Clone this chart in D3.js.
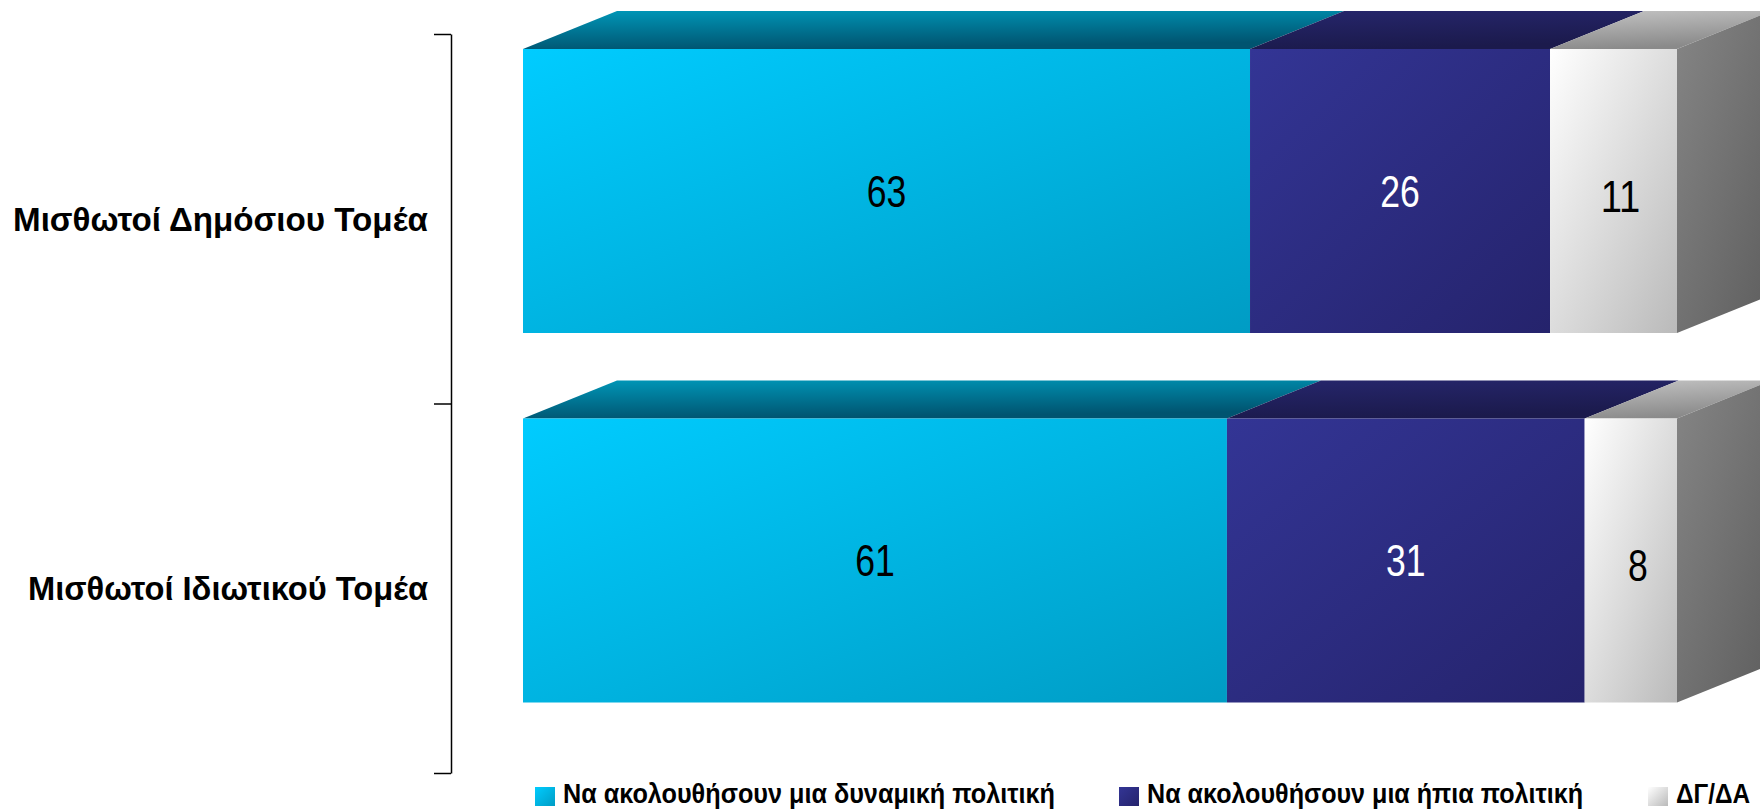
<!DOCTYPE html>
<html>
<head>
<meta charset="utf-8">
<script src="https://cdn.jsdelivr.net/npm/d3@7"></script>
<style>
body { margin: 0; background: #fff; }
</style>
</head>
<body>
<div id="myDiv"></div>
<script>
// chart data
var categories = ["Μισθωτοί Δημόσιου Τομέα", "Μισθωτοί Ιδιωτικού Τομέα"];
var seriesNames = ["Να ακολουθήσουν μια δυναμική πολιτική", "Να ακολουθήσουν μια ήπια πολιτική", "ΔΓ/ΔΑ"];
var dynamicPolicy = [63, 61];
var mildPolicy = [26, 31];
var dontKnow = [11, 8];

var width = 1760, height = 810;
var depthX = 94, depthY = 38;
var barTop = 15, barH = 284;

var svg = d3.select("#myDiv").append("svg")
    .attr("width", width)
    .attr("height", height);

var x = d3.scaleLinear().domain([0, 100]).range([523, 1677]);
var y = d3.scaleBand().domain(categories).range([34, 773]).padding(0);
var edges = d3.scaleLinear().domain([0, categories.length]).range([34, 773]);

// gradients
var defs = svg.append("defs");
function grad(id, c1, c2, x2, y2){
    var g = defs.append("linearGradient").attr("id", id)
        .attr("x1", 0).attr("y1", 0).attr("x2", x2).attr("y2", y2);
    g.append("stop").attr("offset", "0%").attr("stop-color", c1);
    g.append("stop").attr("offset", "100%").attr("stop-color", c2);
}
var styles = [
    {front: ["#00ccff", "#009cc4"], top: ["#0097b8", "#005470"], text: "#000"},
    {front: ["#333595", "#25236c"], top: ["#26266c", "#1b1a4c"], text: "#fff"},
    {front: ["#ffffff", "#bababa"], top: ["#c4c4c4", "#8a8a8a"], text: "#000"}
];
styles.forEach(function(s, i){
    grad("front" + i, s.front[0], s.front[1], 1, 1);
    grad("top" + i, s.top[0], s.top[1], 0.3, 1);
});
grad("side", "#858585", "#5e5e5e", 1, 1);

// stack the series
var table = categories.map(function(c, i){
    return {cat: c, values: [dynamicPolicy[i], mildPolicy[i], dontKnow[i]]};
});
var segs = [];
table.forEach(function(row){
    var acc = 0;
    row.values.forEach(function(v, k){
        segs.push({cat: row.cat, k: k, v: v, x0: acc, x1: acc + v, last: k == row.values.length - 1});
        acc += v;
    });
});

var bars = svg.append("g");

// top faces
bars.selectAll(".top").data(segs).enter()
    .append("path")
    .attr("class", "top")
    .attr("d", function(d){
        var yf = y(d.cat) + barTop;
        var a = x(d.x0), b = x(d.x1);
        return "M" + a + "," + yf + "L" + b + "," + yf +
            "L" + (b + depthX) + "," + (yf - depthY) +
            "L" + (a + depthX) + "," + (yf - depthY) + "Z";
    })
    .attr("fill", function(d){ return "url(#top" + d.k + ")"; });

// side face at end of bar
bars.selectAll(".side").data(segs.filter(function(d){ return d.last; })).enter()
    .append("path")
    .attr("class", "side")
    .attr("d", function(d){
        var yf = y(d.cat) + barTop;
        var b = x(d.x1);
        return "M" + b + "," + yf + "L" + (b + depthX) + "," + (yf - depthY) +
            "L" + (b + depthX) + "," + (yf + barH - depthY) +
            "L" + b + "," + (yf + barH) + "Z";
    })
    .attr("fill", "url(#side)");

// front faces
bars.selectAll(".front").data(segs).enter()
    .append("rect")
    .attr("class", "front")
    .attr("x", function(d){ return x(d.x0); })
    .attr("y", function(d){ return y(d.cat) + barTop; })
    .attr("width", function(d){ return x(d.x1) - x(d.x0); })
    .attr("height", barH)
    .attr("fill", function(d){ return "url(#front" + d.k + ")"; });

// value labels (narrow look)
var valSize = 44;
bars.selectAll(".val").data(segs).enter()
    .append("text")
    .attr("class", "val")
    .attr("x", function(d){ return (x(d.x0) + x(d.x1)) / 2 + (d.last ? 7 : 0); })
    .attr("y", function(d){ return y(d.cat) + barTop + barH / 2 + (d.last ? 5 : 0); })
    .attr("text-anchor", "middle")
    .attr("dominant-baseline", "central")
    .attr("textLength", function(d){ return String(d.v).length * valSize * 0.45; })
    .attr("lengthAdjust", "spacingAndGlyphs")
    .style("font-family", "'Liberation Sans', Arial, sans-serif")
    .style("font-size", valSize + "px")
    .attr("fill", function(d){ return styles[d.k].text; })
    .text(function(d){ return d.v; });

// category axis (bracket)
var axis = d3.axisLeft(edges)
    .tickValues(d3.range(categories.length + 1))
    .tickSize(17)
    .tickSizeOuter(0)
    .tickFormat("");
var ax = svg.append("g")
    .attr("transform", "translate(451,0)")
    .call(axis);
ax.selectAll("path, line").attr("stroke", "#000").attr("stroke-width", 1.5);

var labelW = [415, 400];
svg.selectAll(".cat").data(categories).enter()
    .append("text")
    .attr("class", "cat")
    .attr("x", 428)
    .attr("y", function(d){ return y(d) + y.bandwidth() / 2; })
    .attr("text-anchor", "end")
    .attr("dominant-baseline", "central")
    .attr("textLength", function(d, i){ return labelW[i]; })
    .attr("lengthAdjust", "spacingAndGlyphs")
    .style("font-family", "'Liberation Sans', Arial, sans-serif")
    .style("font-weight", "bold")
    .style("font-size", "34px")
    .text(function(d){ return d; });

// legend
var legX = [535, 1119, 1648];
var legW = [492, 436, 74];
var leg = svg.selectAll(".leg").data(seriesNames).enter()
    .append("g")
    .attr("class", "leg")
    .attr("transform", function(d, i){ return "translate(" + legX[i] + ",0)"; });
leg.append("rect")
    .attr("x", 0).attr("y", 787)
    .attr("width", 20).attr("height", 19)
    .attr("fill", function(d, i){ return "url(#front" + i + ")"; });
leg.append("text")
    .attr("x", 28)
    .attr("y", 803)
    .attr("textLength", function(d, i){ return legW[i]; })
    .attr("lengthAdjust", "spacingAndGlyphs")
    .style("font-family", "'Liberation Sans', Arial, sans-serif")
    .style("font-weight", "bold")
    .style("font-size", "28px")
    .text(function(d){ return d; });
</script>
</body>
</html>
